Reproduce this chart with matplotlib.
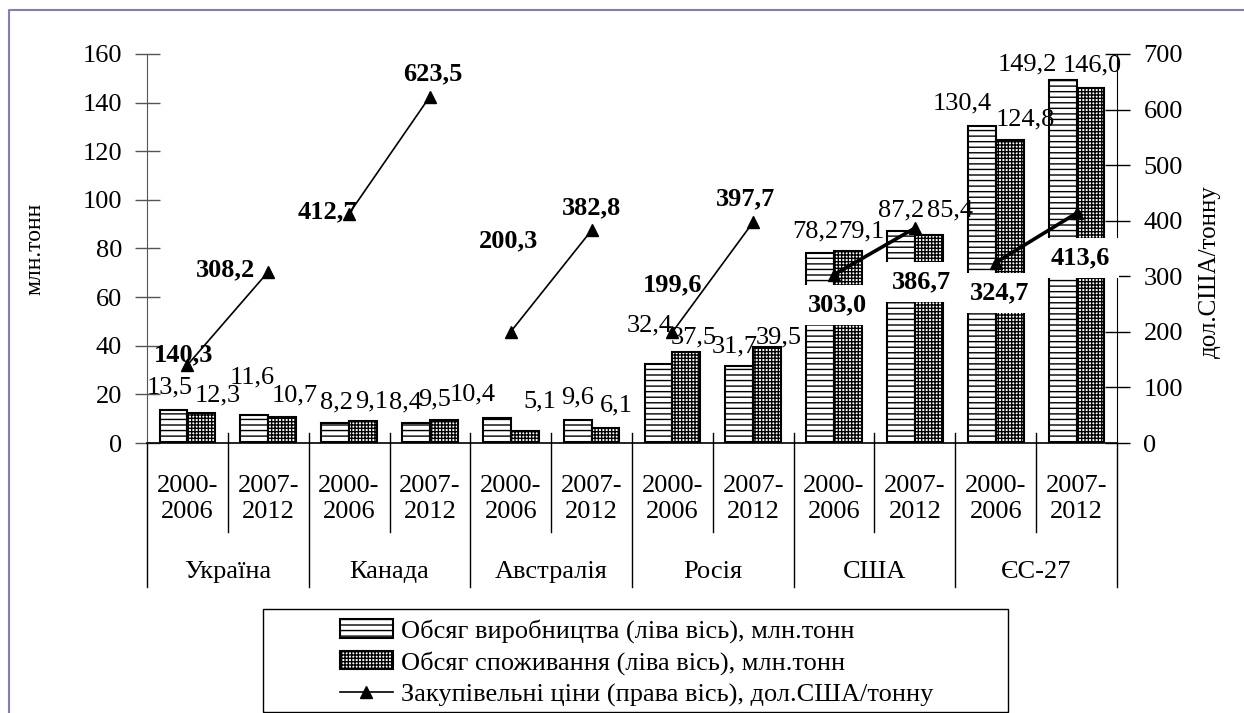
import numpy as np
import matplotlib.pyplot as plt
import matplotlib.transforms as mtransforms
from matplotlib.patches import Patch, Rectangle
from matplotlib.lines import Line2D

plt.rcParams['font.family'] = ['Liberation Serif', 'DejaVu Serif']
plt.rcParams['hatch.linewidth'] = 1.0

countries = ['Україна', 'Канада', 'Австралія', 'Росія', 'США', 'ЄС-27']
periods = ['2000-\n2006', '2007-\n2012']
production = [13.5, 11.6, 8.2, 8.4, 10.4, 9.6, 32.4, 31.7, 78.2, 87.2, 130.4, 149.2]
consumption = [12.3, 10.7, 9.1, 9.5, 5.1, 6.1, 37.5, 39.5, 79.1, 85.4, 124.8, 146.0]
prices = [140.3, 308.2, 412.7, 623.5, 200.3, 382.8, 199.6, 397.7, 303.0, 386.7, 324.7, 413.6]
legend_labels = ['Обсяг виробництва (ліва вісь), млн.тонн',
                 'Обсяг споживання (ліва вісь), млн.тонн',
                 'Закупівельні ціни (права вісь), дол.США/тонну']

# label offsets in pixels (dx, dy) as placed in the original
prod_off = [(-4, 23), (-2, 37), (1, 21), (-11, 20), (-24, 23), (0, 22),
            (-9, 39), (-5, 19), (-5, 21), (0, 21), (-20, 23), (-35, 16)]
cons_off = [(16, 18), (13, 22), (9, 19), (-9, 20), (15, 29), (11, 23),
            (7, 14), (11, 10), (13, 19), (21, 25), (16, 20), (2, 23)]
price_off = [(-4, 10), (-43, 2), (-22, 2), (3, 23), (-2, 91), (0, 22),
             (0, 47), (-8, 23), (3, -30), (7, -54), (4, -30), (4, -45)]

def fmt(v):
    return f"{v:.1f}".replace('.', ',')

W, H = 1244, 713
pos = [147 / W, 270 / H, 970 / W, 389 / H]
fig, ax = plt.subplots(figsize=(W / 100, H / 100), dpi=100)
ax.set_position(pos)

x = np.arange(len(production))
bw = 0.345
fs = 19

ax.bar(x - bw / 2, production, bw, color='white', edgecolor='black', lw=1.5, hatch='---')
ax.bar(x + bw / 2, consumption, bw, color='white', edgecolor='black', lw=1.5, hatch='+++++')

for i in x:
    ax.annotate(fmt(production[i]), (i - bw / 2, production[i]), xytext=prod_off[i],
                textcoords='offset pixels', ha='center', va='center', fontsize=fs)
    ax.annotate(fmt(consumption[i]), (i + bw / 2, consumption[i]), xytext=cons_off[i],
                textcoords='offset pixels', ha='center', va='center', fontsize=fs)

ax.set_xlim(-0.5, 11.5)
ax.set_ylim(0, 160)
ax.set_yticks(np.arange(0, 161, 20))
ax.set_xticks([])
ax.tick_params(axis='y', direction='inout', length=18, width=1, color='#555555',
               pad=9, labelsize=fs)
ax.spines['top'].set_visible(False)
ax.spines['right'].set_visible(False)
ax.spines['left'].set_color('#555555')
ax.spines['bottom'].set_linewidth(1.2)
ax.set_ylabel('млн.тонн', fontsize=17)
ax.yaxis.set_label_coords(-0.105, 0.5)

ax2 = ax.twinx()
ax2.set_position(pos)
ax2.set_ylim(0, 700)
ax2.set_yticks(np.arange(0, 701, 100))
ax2.tick_params(axis='y', direction='inout', length=18, width=1, pad=10, labelsize=fs)
for s in ['top', 'left', 'bottom']:
    ax2.spines[s].set_visible(False)
ax2.set_ylabel('дол.США/тонну', fontsize=18, rotation=90)
ax2.yaxis.set_label_coords(1.0845, 0.44)

for j in range(len(countries)):
    seg = slice(2 * j, 2 * j + 2)
    lw = 2.6 if j >= 4 else 1.2
    ax2.plot(x[seg], prices[seg], color='black', lw=lw, marker='^', markersize=9)

for i in x:
    box = None
    if i >= 8:
        box = dict(facecolor='white', edgecolor='none', pad=6)
    ax2.annotate(fmt(prices[i]), (i, prices[i]), xytext=price_off[i],
                 textcoords='offset pixels', ha='center', va='center',
                 fontsize=fs, fontweight='bold', bbox=box)

# category axis below the plot
trans = mtransforms.blended_transform_factory(ax.transData, ax.transAxes)
for k in range(len(x) + 1):
    xk = k - 0.5
    top = 0.026 if 0 < k < len(x) else 0
    bottom = -0.229 if k % 2 else -0.370
    ax.plot([xk, xk], [top, bottom], transform=trans, color='black', lw=1, clip_on=False)
for i in x:
    ax.text(i, -0.144, periods[i % 2], transform=trans, ha='center', va='center', fontsize=fs)
for j, c in enumerate(countries):
    ax.text(2 * j + 0.5, -0.332, c, transform=trans, ha='center', va='center', fontsize=fs)

handles = [Patch(facecolor='white', edgecolor='black', hatch='---', lw=1.5),
           Patch(facecolor='white', edgecolor='black', hatch='+++++', lw=1.5),
           Line2D([], [], color='black', lw=1.2, marker='^', markersize=9)]
fig.legend(handles, legend_labels, loc='upper left', bbox_to_anchor=(340 / W, 1 - 619 / H),
           frameon=False, fontsize=fs, handlelength=2.0, handletextpad=0.3,
           labelspacing=0.3, borderaxespad=0, borderpad=0)
fig.add_artist(Rectangle((263 / W, 1 / H), (1008 - 263) / W, (712 - 609) / H,
                         transform=fig.transFigure, fill=False, edgecolor='black', lw=1))

# outer frame
fig.add_artist(Line2D([9 / W, 9 / W, 1], [0, 1 - 10 / H, 1 - 10 / H],
                      transform=fig.transFigure, color='#8080b8', lw=1.5))

fig.savefig('out.png', dpi=100)
